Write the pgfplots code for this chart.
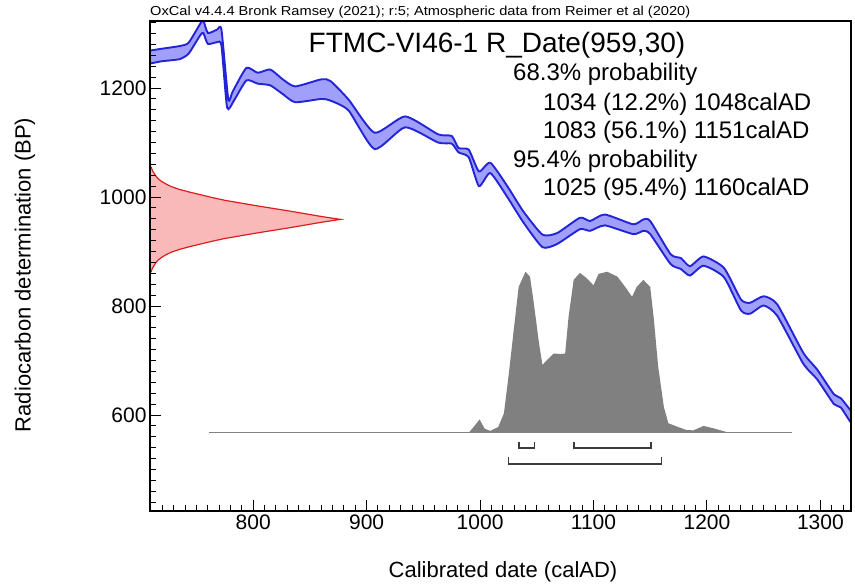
\documentclass[border=0pt]{standalone}
\usepackage{fontspec}
\setmainfont{Liberation Sans}
\usepackage{graphicx}
\usepackage{pgfplots}
\pgfplotsset{compat=1.18}
\definecolor{bandfill}{RGB}{160,160,250}
\definecolor{bandedge}{RGB}{35,35,215}
\definecolor{distfill}{RGB}{250,185,185}
\definecolor{distedge}{RGB}{220,30,30}
\definecolor{histfill}{RGB}{128,128,128}
\definecolor{brk}{RGB}{60,60,60}
\begin{document}
\begin{tikzpicture}
\begin{axis}[name=ax, at={(0,0)}, anchor=south west,
  scale only axis, width=701pt, height=490pt,
  xmin=709, xmax=1327, ymin=424, ymax=1323,
  axis line style={line width=2.2pt},
  xtick={800,900,...,1300}, ytick={600,800,1000,1200},
  minor xtick={720,730,...,1320}, minor ytick={440,460,...,1320},
  xtick pos=bottom, ytick pos=left, tick align=inside,
  major tick length=11pt, minor tick length=6pt,
  every tick/.style={black, line width=1pt},
  tick label style={font=\fontsize{21}{25}\selectfont},
  /pgf/number format/assume math mode=true,
  /pgf/number format/1000 sep={},
  axis on top,
]
% calibration curve band: upper edge then lower edge reversed
\addplot[draw=bandedge, line width=1.9pt, fill=bandfill, smooth, tension=0.35] coordinates {
(707,1268) (719,1272) (735,1277) (743,1283) (753,1317) (756,1324) (760,1301)
(768,1307) (772,1307) (778,1180) (782,1194) (794,1237) (804,1228) (815,1234)
(826,1216) (837,1203) (860,1216) (868,1213) (884,1179) (907,1118) (934,1148)
(963,1115) (975,1112) (981,1090) (990,1087) (999,1047) (1009,1063) (1024,1020)
(1038,974) (1055,931) (1068,934) (1088,962) (1097,956) (1110,968) (1135,950)
(1144,959) (1150,956) (1168,895) (1177,888) (1185,873) (1197,891) (1215,870)
(1230,812) (1238,806) (1250,818) (1262,803) (1285,714) (1297,684) (1312,638)
(1318,631) (1330,598)
(1330,577) (1318,614) (1312,620) (1297,666) (1285,694) (1262,782) (1250,801)
(1238,786) (1230,792) (1215,853) (1197,874) (1185,856) (1177,868) (1168,877)
(1150,932) (1144,938) (1135,932) (1110,948) (1097,938) (1088,941) (1068,914)
(1055,908) (1038,954) (1024,1000) (1009,1044) (999,1020) (990,1073) (981,1082)
(975,1098) (963,1100) (934,1128) (907,1088) (884,1159) (868,1177) (860,1180)
(837,1174) (826,1189) (815,1205) (804,1208) (794,1214) (783,1177) (777,1164)
(772,1278) (768,1284) (760,1281) (756,1301) (753,1296) (743,1263) (735,1253)
(719,1249) (707,1244)
} -- cycle;
% radiocarbon determination 959 +/- 30
\addplot[draw=distedge, line width=1.2pt, fill=distfill] coordinates {
(707,1056) (710,1055) (711,1049) (712.5,1044) (714,1039) (716,1034) (719,1029)
(723,1024) (728,1019) (735,1014) (744,1009) (754,1004) (764,999) (775,994)
(789,989) (803,984) (818,979) (833,974) (847,969) (861,964) (877,959)
(861,954) (847,949) (833,944) (818,939) (803,934) (789,929) (775,924)
(764,919) (754,914) (744,909) (735,904) (728,899) (723,894) (719,889)
(716,884) (714,879) (712.5,874) (711,869) (710,863) (707,862)
} -- cycle;
% calibrated probability distribution
\addplot[draw=none, fill=histfill] coordinates {
(990,567.5) (995,580) (999.6,592) (1004,575) (1009,571) (1016,578) (1021,603)
(1025,670) (1030,762) (1034,835) (1040,863) (1044,854) (1047,811) (1052,731)
(1055,692) (1059,701) (1065,713) (1071,712) (1075,713) (1078,780) (1082.5,848)
(1088,861) (1094,851) (1100,838) (1104.5,859) (1112,863) (1121,854) (1128,835)
(1134,817) (1138,835) (1144,848) (1150,835) (1153,780) (1157,689) (1162,615)
(1166,585) (1174,578.5) (1182,572.5) (1188,572) (1197,580) (1206,575.6)
(1218,568.5) (1222,567.5)
} -- cycle;
\addplot[draw=gray, line width=0.7pt] coordinates {(761,567.5) (1275,567.5)};
% ranges
\addplot[draw=brk, line width=1.8pt] coordinates {(1034,551) (1034,539) (1048,539) (1048,551)};
\addplot[draw=brk, line width=1.8pt] coordinates {(1083,551) (1083,539) (1151,539) (1151,551)};
\addplot[draw=brk, line width=1.8pt] coordinates {(1025,523.5) (1025,510) (1160,510) (1160,523.5)};
\end{axis}
\node[anchor=base west, inner sep=0pt, font=\fontsize{13}{15}\selectfont]
  at ([yshift=5pt]ax.north west)
  {\resizebox{540pt}{\height}{OxCal v4.4.4 Bronk Ramsey (2021); r:5; Atmospheric data from Reimer et al (2020)}};
\node[anchor=base, inner sep=0pt, font=\fontsize{28}{32}\selectfont]
  at ([xshift=347pt, yshift=-32pt]ax.north west) {FTMC-VI46-1 R\_Date(959,30)};
\begin{scope}[every node/.style={anchor=base west, inner sep=0pt, font=\fontsize{24}{28}\selectfont}]
\node at ([xshift=363pt, yshift=-59.5pt]ax.north west) {68.3\% probability};
\node at ([xshift=393pt, yshift=-89.5pt]ax.north west) {1034 (12.2\%) 1048calAD};
\node at ([xshift=393pt, yshift=-117.5pt]ax.north west) {1083 (56.1\%) 1151calAD};
\node at ([xshift=363pt, yshift=-146.5pt]ax.north west) {95.4\% probability};
\node at ([xshift=393pt, yshift=-174.5pt]ax.north west) {1025 (95.4\%) 1160calAD};
\end{scope}
\node[anchor=base, inner sep=0pt, font=\fontsize{22}{26}\selectfont]
  at ([xshift=353pt, yshift=-67pt]ax.south west) {Calibrated date (calAD)};
\node[anchor=center, rotate=90, inner sep=0pt, font=\fontsize{22}{26}\selectfont]
  at ([xshift=-125pt, yshift=-254pt]ax.north west) {Radiocarbon determination (BP)};
\pgfresetboundingbox
\path[use as bounding box] ([xshift=-150pt,yshift=-74pt]ax.south west) rectangle ([xshift=4pt,yshift=21pt]ax.north east);
\end{tikzpicture}
\end{document}
